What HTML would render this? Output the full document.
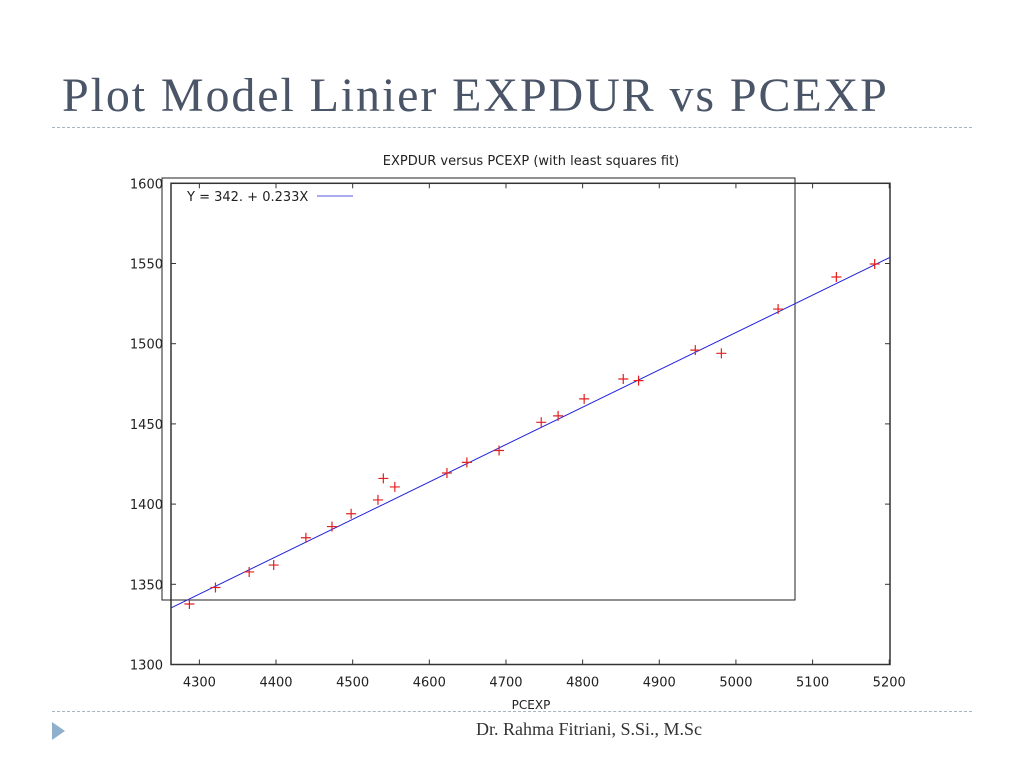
<!DOCTYPE html>
<html><head><meta charset="utf-8"><style>
body{margin:0;background:#fff;width:1024px;height:768px;overflow:hidden;position:relative;font-family:"Liberation Sans",sans-serif}
.t{position:absolute;left:62px;top:68px;font-family:"Liberation Serif",serif;font-size:48px;letter-spacing:1.9px;color:#4b5568;white-space:nowrap}
.d{position:absolute;left:52px;width:920px;border-top:1px dashed #a8b4c4}
.f{position:absolute;left:476px;top:719px;font-family:"Liberation Serif",serif;font-size:18px;color:#333}
#c text{font-family:"DejaVu Sans",sans-serif}
</style></head><body>
<div class="t">Plot Model Linier EXPDUR vs PCEXP</div>
<div class="d" style="top:127px"></div>
<div class="d" style="top:711px"></div>
<svg style="position:absolute;left:52px;top:722px" width="14" height="18"><polygon points="0,0 13,9 0,18" fill="#8fb0cc"/></svg>
<div class="f">Dr. Rahma Fitriani, S.Si., M.Sc</div>
<svg id="c" width="1024" height="768" style="position:absolute;left:0;top:0"></svg>
<script>
const xs=[4287,4321,4365,4397,4439,4473,4498,4533,4540,4555,4623,4649,4691,4746,4768,4802,4853,4873,4947,4981,5055,5131,5181];
const ys=[1337.7,1348,1357.7,1362,1379,1386,1394,1402.6,1416,1410.7,1419.4,1426,1433.4,1451,1455,1465.6,1478,1477,1496,1494,1521.6,1541.6,1549.7];
const xTicks=[4300,4400,4500,4600,4700,4800,4900,5000,5100,5200];
const yTicks=[1300,1350,1400,1450,1500,1550,1600];
const fitA=342, fitB=0.233;
const X0=171,X1=890,Y0=664.5,Y1=183.3,xmin=4263,xmax=5201,ymin=1300,ymax=1600;
const sx=v=>X0+(v-xmin)/(xmax-xmin)*(X1-X0), sy=v=>Y0-(v-ymin)/(ymax-ymin)*(Y0-Y1);
const svg=document.getElementById('c'),NS='http://www.w3.org/2000/svg';
function mk(t,a,txt){const e=document.createElementNS(NS,t);for(const k in a)e.setAttribute(k,a[k]);if(txt!=null)e.textContent=txt;svg.appendChild(e);return e;}
let e;
e=mk('rect',{x:162,y:178,width:633,height:422,fill:'none',stroke:'#222','stroke-width':1});


e=mk('rect',{x:X0,y:Y1,width:X1-X0,height:Y0-Y1,fill:'none',stroke:'#333','stroke-width':1.5});


xTicks.forEach(v=>{const x=sx(v);
e=mk('line',{x1:x,x2:x,y1:Y0,y2:Y0-5,stroke:'#333'});


e=mk('line',{x1:x,x2:x,y1:Y1,y2:Y1+5,stroke:'#333'});


e=mk('text',{x:x,y:Y0+22,'text-anchor':'middle','font-size':13,fill:'#222'},v);

});
yTicks.forEach(v=>{const y=sy(v);
e=mk('line',{x1:X0,x2:X0+5,y1:y,y2:y,stroke:'#333'});


e=mk('line',{x1:X1,x2:X1-5,y1:y,y2:y,stroke:'#333'});


e=mk('text',{x:163,y:y+5,'text-anchor':'end','font-size':13,fill:'#222'},v);

});
e=mk('line',{x1:X0,y1:sy(fitA+fitB*xmin),x2:X1,y2:sy(fitA+fitB*xmax),stroke:'#2222dd','stroke-width':1});


xs.forEach((v,i)=>{const x=sx(v),y=sy(ys[i]);
e=mk('path',{d:`M${x-5},${y}H${x+5}M${x},${y-5}V${y+5}`,stroke:'#e02020','stroke-width':1.2});

});
e=mk('text',{x:531,y:165,'text-anchor':'middle','font-size':13,fill:'#222'},'EXPDUR versus PCEXP (with least squares fit)');


e=mk('text',{x:531,y:709,'text-anchor':'middle','font-size':12,fill:'#222'},'PCEXP');


e=mk('text',{x:187,y:201,'font-size':13,fill:'#222'},'Y = 342. + 0.233X');


e=mk('line',{x1:317,x2:353,y1:196,y2:196,stroke:'#5555dd'});


</script>
</body></html>
